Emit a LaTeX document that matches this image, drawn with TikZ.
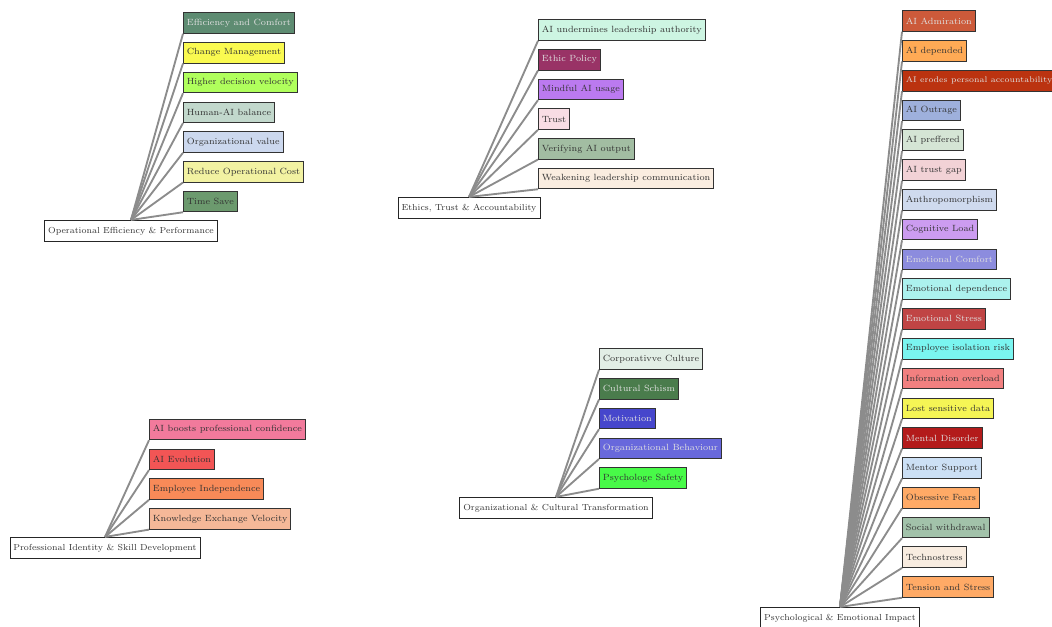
\documentclass[tikz,border=0pt]{standalone}
\usetikzlibrary{positioning}
% fills of the leaf boxes
\definecolor{opA}{HTML}{5E8C72}
\definecolor{opB}{HTML}{FAFA50}
\definecolor{opC}{HTML}{B0FF5C}
\definecolor{opD}{HTML}{C2D8CC}
\definecolor{opE}{HTML}{CCD8EE}
\definecolor{opF}{HTML}{F2F2A2}
\definecolor{opG}{HTML}{6C9A6E}
\definecolor{etA}{HTML}{CDF5E2}
\definecolor{etB}{HTML}{993366}
\definecolor{etC}{HTML}{BB7AF0}
\definecolor{etD}{HTML}{F8DDE4}
\definecolor{etE}{HTML}{A2BDA2}
\definecolor{etF}{HTML}{FAEDE0}
\definecolor{psA}{HTML}{CC5A3A}
\definecolor{psB}{HTML}{FFAA55}
\definecolor{psC}{HTML}{BB3310}
\definecolor{psD}{HTML}{9EB0DC}
\definecolor{psE}{HTML}{D5E5D5}
\definecolor{psF}{HTML}{F2D2D6}
\definecolor{psG}{HTML}{CFDAEE}
\definecolor{psH}{HTML}{CC9CF0}
\definecolor{psI}{HTML}{8C8CDE}
\definecolor{psJ}{HTML}{ACF2EE}
\definecolor{psK}{HTML}{C04444}
\definecolor{psL}{HTML}{7AF5F0}
\definecolor{psM}{HTML}{F28080}
\definecolor{psN}{HTML}{F5F555}
\definecolor{psO}{HTML}{B31B1B}
\definecolor{psP}{HTML}{CCE0F5}
\definecolor{psQ}{HTML}{FFAA66}
\definecolor{psR}{HTML}{A2C2AA}
\definecolor{psS}{HTML}{F8ECE0}
\definecolor{psT}{HTML}{FFAA66}
\definecolor{prA}{HTML}{F27A9C}
\definecolor{prB}{HTML}{F25555}
\definecolor{prC}{HTML}{F88A58}
\definecolor{prD}{HTML}{F5B898}
\definecolor{orA}{HTML}{E2EEE6}
\definecolor{orB}{HTML}{4A7C4C}
\definecolor{orC}{HTML}{4646CC}
\definecolor{orD}{HTML}{6868DC}
\definecolor{orE}{HTML}{48FA48}
\definecolor{figtxt}{gray}{0.2}
\definecolor{figedge}{gray}{0.55}
\tikzset{
  root/.style={draw=black!85,semithick,fill=white,text=figtxt,anchor=center,
               minimum height=16pt,inner sep=2.6pt,font=\fontsize{6.55}{8}\selectfont},
  leaf/.style={draw=black!80,semithick,anchor=west,minimum height=15.5pt,
               inner sep=2.6pt,font=\fontsize{6.75}{8}\selectfont},
  edge/.style={figedge,line width=1.4pt},
}

\begin{document}
\begin{tikzpicture}[x=0.75pt,y=-0.75pt]
\useasboundingbox (0,0) rectangle (1052,627);

% Operational Efficiency & Performance
\node[root] (op) at (131,231) {Operational Efficiency \& Performance};
\foreach \fc/\tc/\txt [count=\i] in {opA/white!88!black/Efficiency and Comfort,
    opB/figtxt/Change Management, opC/figtxt/Higher decision velocity,
    opD/figtxt/Human-AI balance, opE/figtxt/Organizational value,
    opF/figtxt/Reduce Operational Cost, opG/figtxt/Time Save}{
  \node[leaf,fill=\fc,text=\tc] (op\i) at (183,{23+(\i-1)*29.75}) {\txt};
  \draw[edge] (op.north) -- (op\i.south west);
}

% Ethics, Trust & Accountability
\node[root] (et) at (469,208) {Ethics, Trust \& Accountability};
\foreach \fc/\tc/\txt [count=\i] in {etA/figtxt/AI undermines leadership authority,
    etB/white!88!black/Ethic Policy, etC/figtxt/Mindful AI usage,
    etD/figtxt/Trust, etE/figtxt/Verifying AI output,
    etF/figtxt/Weakening leadership communication}{
  \node[leaf,fill=\fc,text=\tc] (et\i) at (538,{30+(\i-1)*29.7}) {\txt};
  \draw[edge] (et.north) -- (et\i.south west);
}

% Psychological & Emotional Impact
\node[root] (ps) at (840,618) {Psychological \& Emotional Impact};
\foreach \fc/\tc/\txt [count=\i] in {psA/white!88!black/AI Admiration,
    psB/figtxt/AI depended,
    psC/white!88!black/{\fontsize{6.1}{8}\selectfont AI erodes personal accountability},
    psD/figtxt/AI Outrage, psE/figtxt/AI preffered, psF/figtxt/AI trust gap,
    psG/figtxt/Anthropomorphism, psH/figtxt/Cognitive Load,
    psI/white!88!black/Emotional Comfort, psJ/figtxt/Emotional dependence,
    psK/white!88!black/Emotional Stress, psL/figtxt/Employee isolation risk,
    psM/figtxt/Information overload, psN/figtxt/Lost sensitive data,
    psO/white!88!black/Mental Disorder, psP/figtxt/Mentor Support,
    psQ/figtxt/Obsessive Fears, psR/figtxt/Social withdrawal,
    psS/figtxt/Technostress, psT/figtxt/Tension and Stress}{
  \node[leaf,fill=\fc,text=\tc] (ps\i) at (902,{21+(\i-1)*29.79}) {\txt};
  \draw[edge] (ps.north) -- (ps\i.south west);
}

% Professional Identity & Skill Development
\node[root] (pr) at (105,548) {Professional Identity \& Skill Development};
\foreach \fc/\tc/\txt [count=\i] in {prA/figtxt/AI boosts professional confidence,
    prB/figtxt/AI Evolution, prC/figtxt/Employee Independence,
    prD/figtxt/Knowledge Exchange Velocity}{
  \node[leaf,fill=\fc,text=\tc] (pr\i) at (149,{429.5+(\i-1)*29.8}) {\txt};
  \draw[edge] (pr.north) -- (pr\i.south west);
}

% Organizational & Cultural Transformation
\node[root] (or) at (556,508) {Organizational \& Cultural Transformation};
\foreach \fc/\tc/\txt [count=\i] in {orA/figtxt/Corporativve Culture,
    orB/white!88!black/Cultural Schism, orC/white!88!black/Motivation,
    orD/white!88!black/Organizational Behaviour, orE/figtxt/Psychologe Safety}{
  \node[leaf,fill=\fc,text=\tc] (or\i) at (599,{359+(\i-1)*29.75}) {\txt};
  \draw[edge] (or.north) -- (or\i.south west);
}

\end{tikzpicture}
\end{document}
